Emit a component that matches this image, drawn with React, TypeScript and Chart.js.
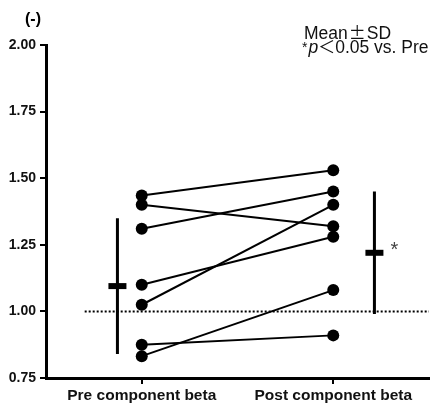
import React, { useEffect, useRef } from 'react';
import { Chart, registerables } from 'chart.js';

Chart.register(...registerables);

const CATEGORIES = ['Pre component beta', 'Post component beta'];
const CATEGORY_X = [1, 3];
const PRE_VALUES = [1.435, 1.4, 1.31, 1.1, 1.025, 0.875, 0.832];
const POST_VALUES = [1.53, 1.32, 1.45, 1.28, 1.4, 0.91, 1.08];
const MEANS = [1.095, 1.22];
const SDS = [0.255, 0.23];
const Y_TICKS = [0.75, 1.0, 1.25, 1.5, 1.75, 2.0];
const REFERENCE_Y = 1.0;
const Y_UNIT = '(-)';
const NOTE_LINE1 = ['Mean', '±', 'SD'];
const NOTE_LINE2 = ['*', 'p', '＜', '0.05 vs. Pre'];
const SIG_MARK = '*';

// layout constants (not data)
const MEAN_X = [0.746, 3.43];
const REF_X_START = 0.404;
const X_MIN = 0;
const X_MAX = 4;

const textPlugin = {
  id: 'textPlugin',
  afterDraw(chart: any) {
    const ctx = chart.ctx;
    ctx.save();
    ctx.fillStyle = '#000';
    ctx.textBaseline = 'alphabetic';
    ctx.textAlign = 'left';
    // unit label
    ctx.font = 'bold 16px "Liberation Sans"';
    ctx.fillText(Y_UNIT, 25, 24);

    // note line 1
    ctx.fillStyle = '#111';
    let x = 304;
    const y1 = 38.5;
    ctx.font = '17.5px "Liberation Sans"';
    ctx.fillText(NOTE_LINE1[0], x, y1);
    x += ctx.measureText(NOTE_LINE1[0]).width;
    ctx.font = '17px "Noto Sans CJK JP"';
    ctx.fillText('\u00B1', x + 1, y1);
    x += ctx.measureText('\u00B1').width + 2;
    ctx.font = '17.5px "Liberation Sans"';
    ctx.fillText(NOTE_LINE1[2], x, y1);

    // note line 2
    const y2 = 53;
    x = 302;
    ctx.font = '14px "Liberation Sans"';
    ctx.fillText(NOTE_LINE2[0], x, y2 - 1);
    x += ctx.measureText(NOTE_LINE2[0]).width + 1;
    ctx.font = 'italic 17.5px "Liberation Sans"';
    ctx.fillText(NOTE_LINE2[1], x, y2);
    x += ctx.measureText(NOTE_LINE2[1]).width;
    ctx.font = '17px "Noto Sans CJK JP"';
    ctx.fillText(NOTE_LINE2[2], x, y2);
    x += ctx.measureText(NOTE_LINE2[2]).width;
    ctx.font = '17.5px "Liberation Sans"';
    ctx.fillText(NOTE_LINE2[3], x, y2);

    // significance mark beside post mean
    const xs = chart.scales.x;
    const ys = chart.scales.y;
    ctx.fillStyle = '#444';
    ctx.font = '20px "Liberation Sans"';
    ctx.textAlign = 'center';
    ctx.textBaseline = 'alphabetic';
    ctx.fillText(SIG_MARK, xs.getPixelForValue(MEAN_X[1]) + 20, ys.getPixelForValue(MEANS[1]) + 3);
    ctx.restore();
  },
};

export default function App() {
  const ref = useRef<HTMLCanvasElement>(null);
  useEffect(() => {
    if (!ref.current) return;
    const datasets: any[] = [];
    datasets.push({
      data: [
        { x: REF_X_START, y: REFERENCE_Y },
        { x: X_MAX, y: REFERENCE_Y },
      ],
      showLine: true,
      borderColor: '#000',
      borderWidth: 2,
      borderDash: [2, 2],
      pointRadius: 0,
    });
    PRE_VALUES.forEach((pre, i) => {
      datasets.push({
        data: [
          { x: CATEGORY_X[0], y: pre },
          { x: CATEGORY_X[1], y: POST_VALUES[i] },
        ],
        showLine: true,
        borderColor: '#000',
        backgroundColor: '#000',
        borderWidth: 2,
        pointRadius: 6,
        pointBorderWidth: 0,
        pointBackgroundColor: '#000',
      });
    });
    MEANS.forEach((m, i) => {
      datasets.push({
        data: [
          { x: MEAN_X[i], y: m + SDS[i] },
          { x: MEAN_X[i], y: m - SDS[i] },
        ],
        showLine: true,
        borderColor: '#000',
        borderWidth: 3,
        pointRadius: 0,
      });
      datasets.push({
        data: [{ x: MEAN_X[i], y: m }],
        showLine: false,
        pointStyle: 'line',
        pointRadius: 9,
        pointBorderWidth: 6,
        borderColor: '#000',
        pointBorderColor: '#000',
      });
    });

    const chart = new Chart(ref.current, {
      type: 'scatter',
      data: { datasets },
      options: {
        animation: false,
        responsive: false,
        layout: { padding: { left: 0, right: 12, top: 45, bottom: 0 } },
        plugins: { legend: { display: false }, tooltip: { enabled: false } },
        scales: {
          x: {
            type: 'linear',
            min: X_MIN,
            max: X_MAX,
            afterBuildTicks: (scale: any) => {
              scale.ticks = CATEGORY_X.map((v) => ({ value: v }));
            },
            afterFit: (scale: any) => {
              scale.height = 26;
            },
            ticks: {
              autoSkip: false,
              maxRotation: 0,
              padding: 2,
              color: '#111',
              font: { family: 'Liberation Sans', size: 15.5, weight: 'bold' },
              callback: (v: any) => CATEGORIES[CATEGORY_X.indexOf(Number(v))] ?? '',
            },
            grid: { drawOnChartArea: false, drawTicks: true, tickLength: 6, color: '#000', lineWidth: 2 },
            border: { display: true, color: '#000', width: 3 },
          },
          y: {
            type: 'linear',
            min: Y_TICKS[0],
            max: Y_TICKS[Y_TICKS.length - 1],
            afterBuildTicks: (scale: any) => {
              scale.ticks = Y_TICKS.map((v) => ({ value: v }));
            },
            afterFit: (scale: any) => {
              scale.width = 46;
            },
            ticks: {
              padding: 4,
              color: '#111',
              font: { family: 'Liberation Sans', size: 14, weight: 'bold' },
              callback: (v: any) => Number(v).toFixed(2),
            },
            grid: { drawOnChartArea: false, drawTicks: true, tickLength: 6, color: '#000', lineWidth: 2 },
            border: { display: true, color: '#000', width: 3 },
          },
        },
      } as any,
      plugins: [textPlugin],
    });
    return () => chart.destroy();
  }, []);
  return (
    <div style={{ position: 'absolute', left: 0, top: 0, width: 444, height: 404, background: '#fff' }}>
      <canvas ref={ref} width={444} height={404} style={{ display: 'block' }} />
    </div>
  );
}
